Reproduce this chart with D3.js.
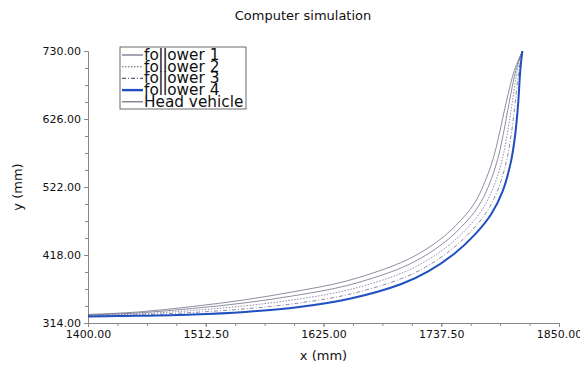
<!DOCTYPE html>
<html lang="en">
<head>
    <meta charset="UTF-8">
    <title>Computer simulation</title>
    <script src="https://cdn.jsdelivr.net/npm/d3@7"></script>
    <style>
        body { margin: 0; background: #fff; }
        text { font-family: "DejaVu Sans", sans-serif; }
    </style>
</head>
<body>
    <script>
        // width and height
        var w = 580;
        var h = 365;

        // tick labels
        var xTicks = [1400, 1512.5, 1625, 1737.5, 1850];
        var yTicks = [314, 418, 522, 626, 730];

        // series: [x, y] points (mm)
        var follower4 = [[1400,324],[1450,325],[1500,327],[1550,331],[1600,338],[1650,351],[1700,374],[1725,393],
            [1750,420],[1770,450],[1785,480],[1796,515],[1804,560],[1808,600],[1811,650],[1813,700],[1815,730]];
        var follower3 = [[1400,324.8],[1450,326.5],[1499.9,330.1],[1549.8,335.6],[1599.5,344.1],[1649.1,357.7],
            [1698.4,381.2],[1722.6,399.6],[1747,426],[1766.5,455.2],[1781,484.1],[1791.6,517.8],[1799.8,561.5],
            [1804.2,600.7],[1808.1,650.2],[1811.6,700],[1815,730]];
        var follower2 = [[1400,325.5],[1450,328.1],[1499.8,333.1],[1549.6,340.2],[1599.1,350.1],[1648.1,364.4],
            [1696.8,388.4],[1720.2,406.3],[1744.1,432],[1763,460.4],[1777,488.3],[1787.1,520.5],[1795.6,563],
            [1800.4,601.5],[1805.3,650.5],[1810.1,700],[1815,730]];
        var follower1 = [[1400,326.3],[1450,329.6],[1499.8,336.2],[1549.4,344.7],[1598.6,356.2],[1647.2,371.2],
            [1695.3,395.7],[1717.8,412.9],[1741.1,438],[1759.5,465.6],[1773,492.4],[1782.7,523.3],[1791.4,564.5],
            [1796.7,602.2],[1802.4,650.7],[1808.7,700],[1815,730]];
        var headVehicle = [[1400,327],[1450,331.1],[1499.7,339.2],[1549.2,349.3],[1598.1,362.3],[1646.2,377.9],
            [1693.7,402.9],[1715.4,419.5],[1738.2,444],[1756,470.8],[1769,496.5],[1778.2,526],[1787.2,566],
            [1792.9,602.9],[1799.5,650.9],[1807.3,700],[1815,730]];

        var seriesNames = ["follower 1", "follower 2", "follower 3", "follower 4", "Head vehicle"];
        var seriesData = [follower1, follower2, follower3, follower4, headVehicle];

        // line styles
        var styles = [
            { color: "#5c5c78", width: 0.7, dash: null },
            { color: "#5c5c78", width: 0.7, dash: "1.5,1.5" },
            { color: "#5c5c78", width: 0.7, dash: "4,2,1,2" },
            { color: "#1f4fc0", width: 2, dash: null },
            { color: "#5c5c78", width: 0.7, dash: null }
        ];

        var margin = { left: 88, right: 21, top: 51, bottom: 42 };

        var x = d3.scaleLinear().domain([1400, 1850]).range([margin.left, w - margin.right]);
        var y = d3.scaleLinear().domain([314, 730]).range([h - margin.bottom, margin.top]);

        var svg = d3.select("body")
                    .append("svg")
                    .attr("width", w)
                    .attr("height", h);

        // title
        svg.append("text")
            .attr("x", 303)
            .attr("y", 20)
            .attr("text-anchor", "middle")
            .attr("font-size", "13px")
            .attr("fill", "#111")
            .text("Computer simulation");

        // minor ticks
        var xMinor = d3.range(0, 17).map(function(i) { return 1400 + i * 28.125; });
        var yMinor = d3.range(0, 17).map(function(i) { return 314 + i * 26; });

        var axisColor = "#888";

        svg.append("g")
            .attr("transform", "translate(0," + y(314) + ")")
            .call(d3.axisBottom(x).tickValues(xTicks).tickFormat(d3.format(".2f")).tickSize(4).tickPadding(3));
        svg.append("g")
            .attr("transform", "translate(0," + y(314) + ")")
            .call(d3.axisBottom(x).tickValues(xMinor).tickFormat("").tickSize(3))
            .select(".domain").remove();

        svg.append("g")
            .attr("transform", "translate(" + x(1400) + ",0)")
            .call(d3.axisLeft(y).tickValues(yTicks).tickFormat(d3.format(".2f")).tickSize(4).tickPadding(3));
        svg.append("g")
            .attr("transform", "translate(" + x(1400) + ",0)")
            .call(d3.axisLeft(y).tickValues(yMinor).tickFormat("").tickSize(3))
            .select(".domain").remove();

        svg.selectAll(".domain, .tick line").attr("stroke", axisColor);
        svg.selectAll(".tick text")
            .attr("font-size", "11px")
            .attr("font-family", "DejaVu Sans, sans-serif")
            .attr("fill", "#111");

        // axis titles
        svg.append("text")
            .attr("x", x(1625))
            .attr("y", 360)
            .attr("text-anchor", "middle")
            .attr("font-size", "13px")
            .attr("fill", "#111")
            .text("x (mm)");

        svg.append("text")
            .attr("transform", "translate(22," + y(522) + ") rotate(-90)")
            .attr("text-anchor", "middle")
            .attr("font-size", "13px")
            .attr("fill", "#111")
            .text("y (mm)");

        // lines
        var line = d3.line()
            .x(function(d) { return x(d[0]); })
            .y(function(d) { return y(d[1]); })
            .curve(d3.curveCatmullRom);

        var drawOrder = [4, 0, 1, 2, 3];
        drawOrder.forEach(function(i) {
            svg.append("path")
                .datum(seriesData[i])
                .attr("fill", "none")
                .attr("stroke", styles[i].color)
                .attr("stroke-width", styles[i].width)
                .attr("stroke-dasharray", styles[i].dash)
                .attr("d", line);
        });

        // legend
        var legend = svg.append("g").attr("transform", "translate(120,47)");
        legend.append("rect")
            .attr("width", 126)
            .attr("height", 62)
            .attr("fill", "#fff")
            .attr("stroke", "#444")
            .attr("stroke-width", 0.8);

        var items = legend.selectAll("g.item")
            .data(seriesNames)
            .enter()
            .append("g")
            .attr("class", "item")
            .attr("transform", function(d, i) { return "translate(0," + (8 + i * 11.7) + ")"; });

        items.append("line")
            .attr("x1", 2)
            .attr("x2", 23)
            .attr("stroke", function(d, i) { return styles[i].color; })
            .attr("stroke-width", function(d, i) { return styles[i].width + 0.4; })
            .attr("stroke-dasharray", function(d, i) { return styles[i].dash; });

        items.append("text")
            .attr("x", 24)
            .attr("y", 5)
            .attr("font-size", "15.3px")
            .attr("fill", "#111")
            .text(function(d) { return d; });
    </script>
</body>
</html>
